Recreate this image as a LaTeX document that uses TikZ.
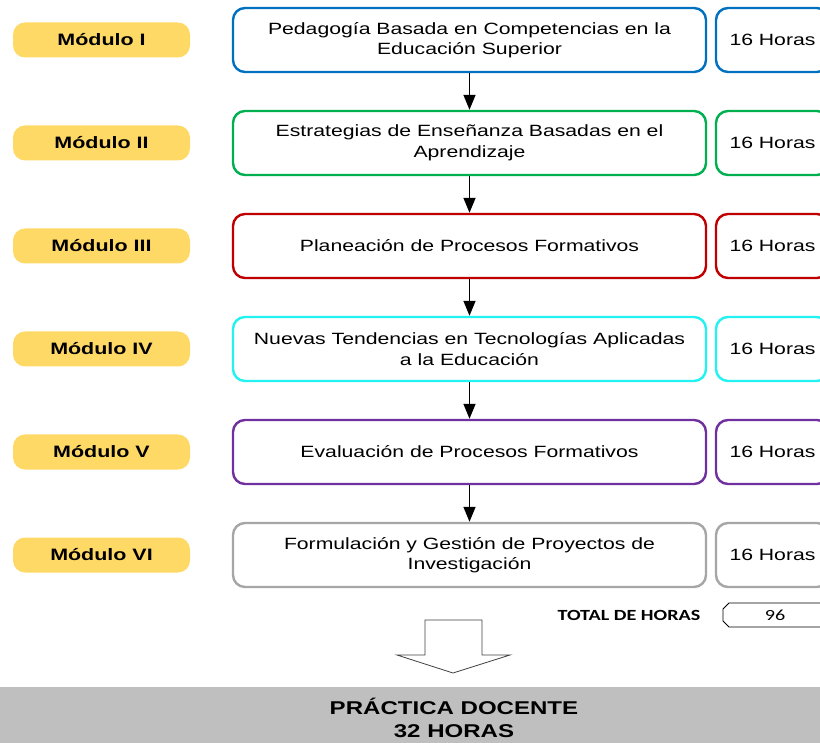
\documentclass[tikz,border=0pt]{standalone}
\usepackage{fontspec}
\setmainfont{Liberation Sans}[FakeStretch=1.3]
\newfontfamily\calfont{Carlito}[FakeStretch=1.3]
\usetikzlibrary{arrows.meta}
\definecolor{cblue}{HTML}{0070C0}
\definecolor{cgreen}{HTML}{00B050}
\definecolor{cred}{HTML}{C00000}
\definecolor{ccyan}{HTML}{22F2F2}
\definecolor{cpurple}{HTML}{7030A0}
\definecolor{cgray}{HTML}{A6A6A6}
\definecolor{labelyellow}{HTML}{FFD966}
\definecolor{barGray}{HTML}{BFBFBF}
\begin{document}
\begin{tikzpicture}[x=1pt,y=-1pt,
  modbox/.style={draw, line width=2.4pt, rounded corners=12pt, minimum width=473pt, minimum height=64pt, align=center, inner sep=0pt, fill=white, font=\fontsize{16.3}{20.5}\selectfont},
  hrbox/.style={draw, line width=2.4pt, rounded corners=12pt, minimum width=113pt, minimum height=64pt, inner sep=0pt, fill=white, font=\fontsize{16.3}{20.5}\selectfont},
  lbl/.style={fill=labelyellow, rounded corners=12pt, minimum width=177pt, minimum height=35pt, inner sep=0pt, font=\bfseries\fontsize{16.5}{20}\selectfont},
  flow/.style={-{Triangle[length=15pt,width=12pt]}, line width=1.5pt}]
\useasboundingbox (0,0) rectangle (820,743);
\clip (0,0) rectangle (820,743);

% labels
\node[lbl] (l1) at (101.5,40) {Módulo I};
\node[lbl] (l2) at (101.5,143) {Módulo II};
\node[lbl] (l3) at (101.5,246) {Módulo III};
\node[lbl] (l4) at (101.5,349) {Módulo IV};
\node[lbl] (l5) at (101.5,452) {Módulo V};
\node[lbl] (l6) at (101.5,555) {Módulo VI};

% main boxes
\node[modbox, draw=cblue] (m1) at (469.5,40) {Pedagogía Basada en Competencias en la\\Educación Superior};
\node[modbox, draw=cgreen] (m2) at (469.5,143) {Estrategias de Enseñanza Basadas en el\\Aprendizaje};
\node[modbox, draw=cred] (m3) at (469.5,246) {Planeación de Procesos Formativos};
\node[modbox, draw=ccyan] (m4) at (469.5,349) {Nuevas Tendencias en Tecnologías Aplicadas\\a la Educación};
\node[modbox, draw=cpurple] (m5) at (469.5,452) {Evaluación de Procesos Formativos};
\node[modbox, draw=cgray] (m6) at (469.5,555) {Formulación y Gestión de Proyectos de\\Investigación};

% hours boxes
\node[hrbox, draw=cblue] (h1) at (772.5,40) {16 Horas};
\node[hrbox, draw=cgreen] (h2) at (772.5,143) {16 Horas};
\node[hrbox, draw=cred] (h3) at (772.5,246) {16 Horas};
\node[hrbox, draw=ccyan] (h4) at (772.5,349) {16 Horas};
\node[hrbox, draw=cpurple] (h5) at (772.5,452) {16 Horas};
\node[hrbox, draw=cgray] (h6) at (772.5,555) {16 Horas};

% arrows
\draw[flow] (m1.south) -- (m2.north);
\draw[flow] (m2.south) -- (m3.north);
\draw[flow] (m3.south) -- (m4.north);
\draw[flow] (m4.south) -- (m5.north);
\draw[flow] (m5.south) -- (m6.north);

% total
\node (totl) at (629,615) {\calfont\bfseries\fontsize{15.5}{18}\selectfont TOTAL DE HORAS};
\draw[line width=0.8pt] (729,603) -- (832,603) -- (832,627) -- (729,627) -- (723,621) -- (723,609) -- cycle;
\node (tot) at (775,615) {\calfont\fontsize{15.5}{18}\selectfont 96};

% hollow arrow
\draw[line width=0.8pt, draw=black!75, fill=white] (425,620) -- (482,620) -- (482,655) -- (510,655) -- (453,673) -- (397,655) -- (425,655) -- cycle;

% bottom bar
\fill[barGray] (0,687) rectangle (820,743);
\node[align=center, font=\bfseries\fontsize{18.5}{23}\selectfont] (pd) at (454,717.5) {PRÁCTICA DOCENTE\\32 HORAS};
\end{tikzpicture}
\end{document}
